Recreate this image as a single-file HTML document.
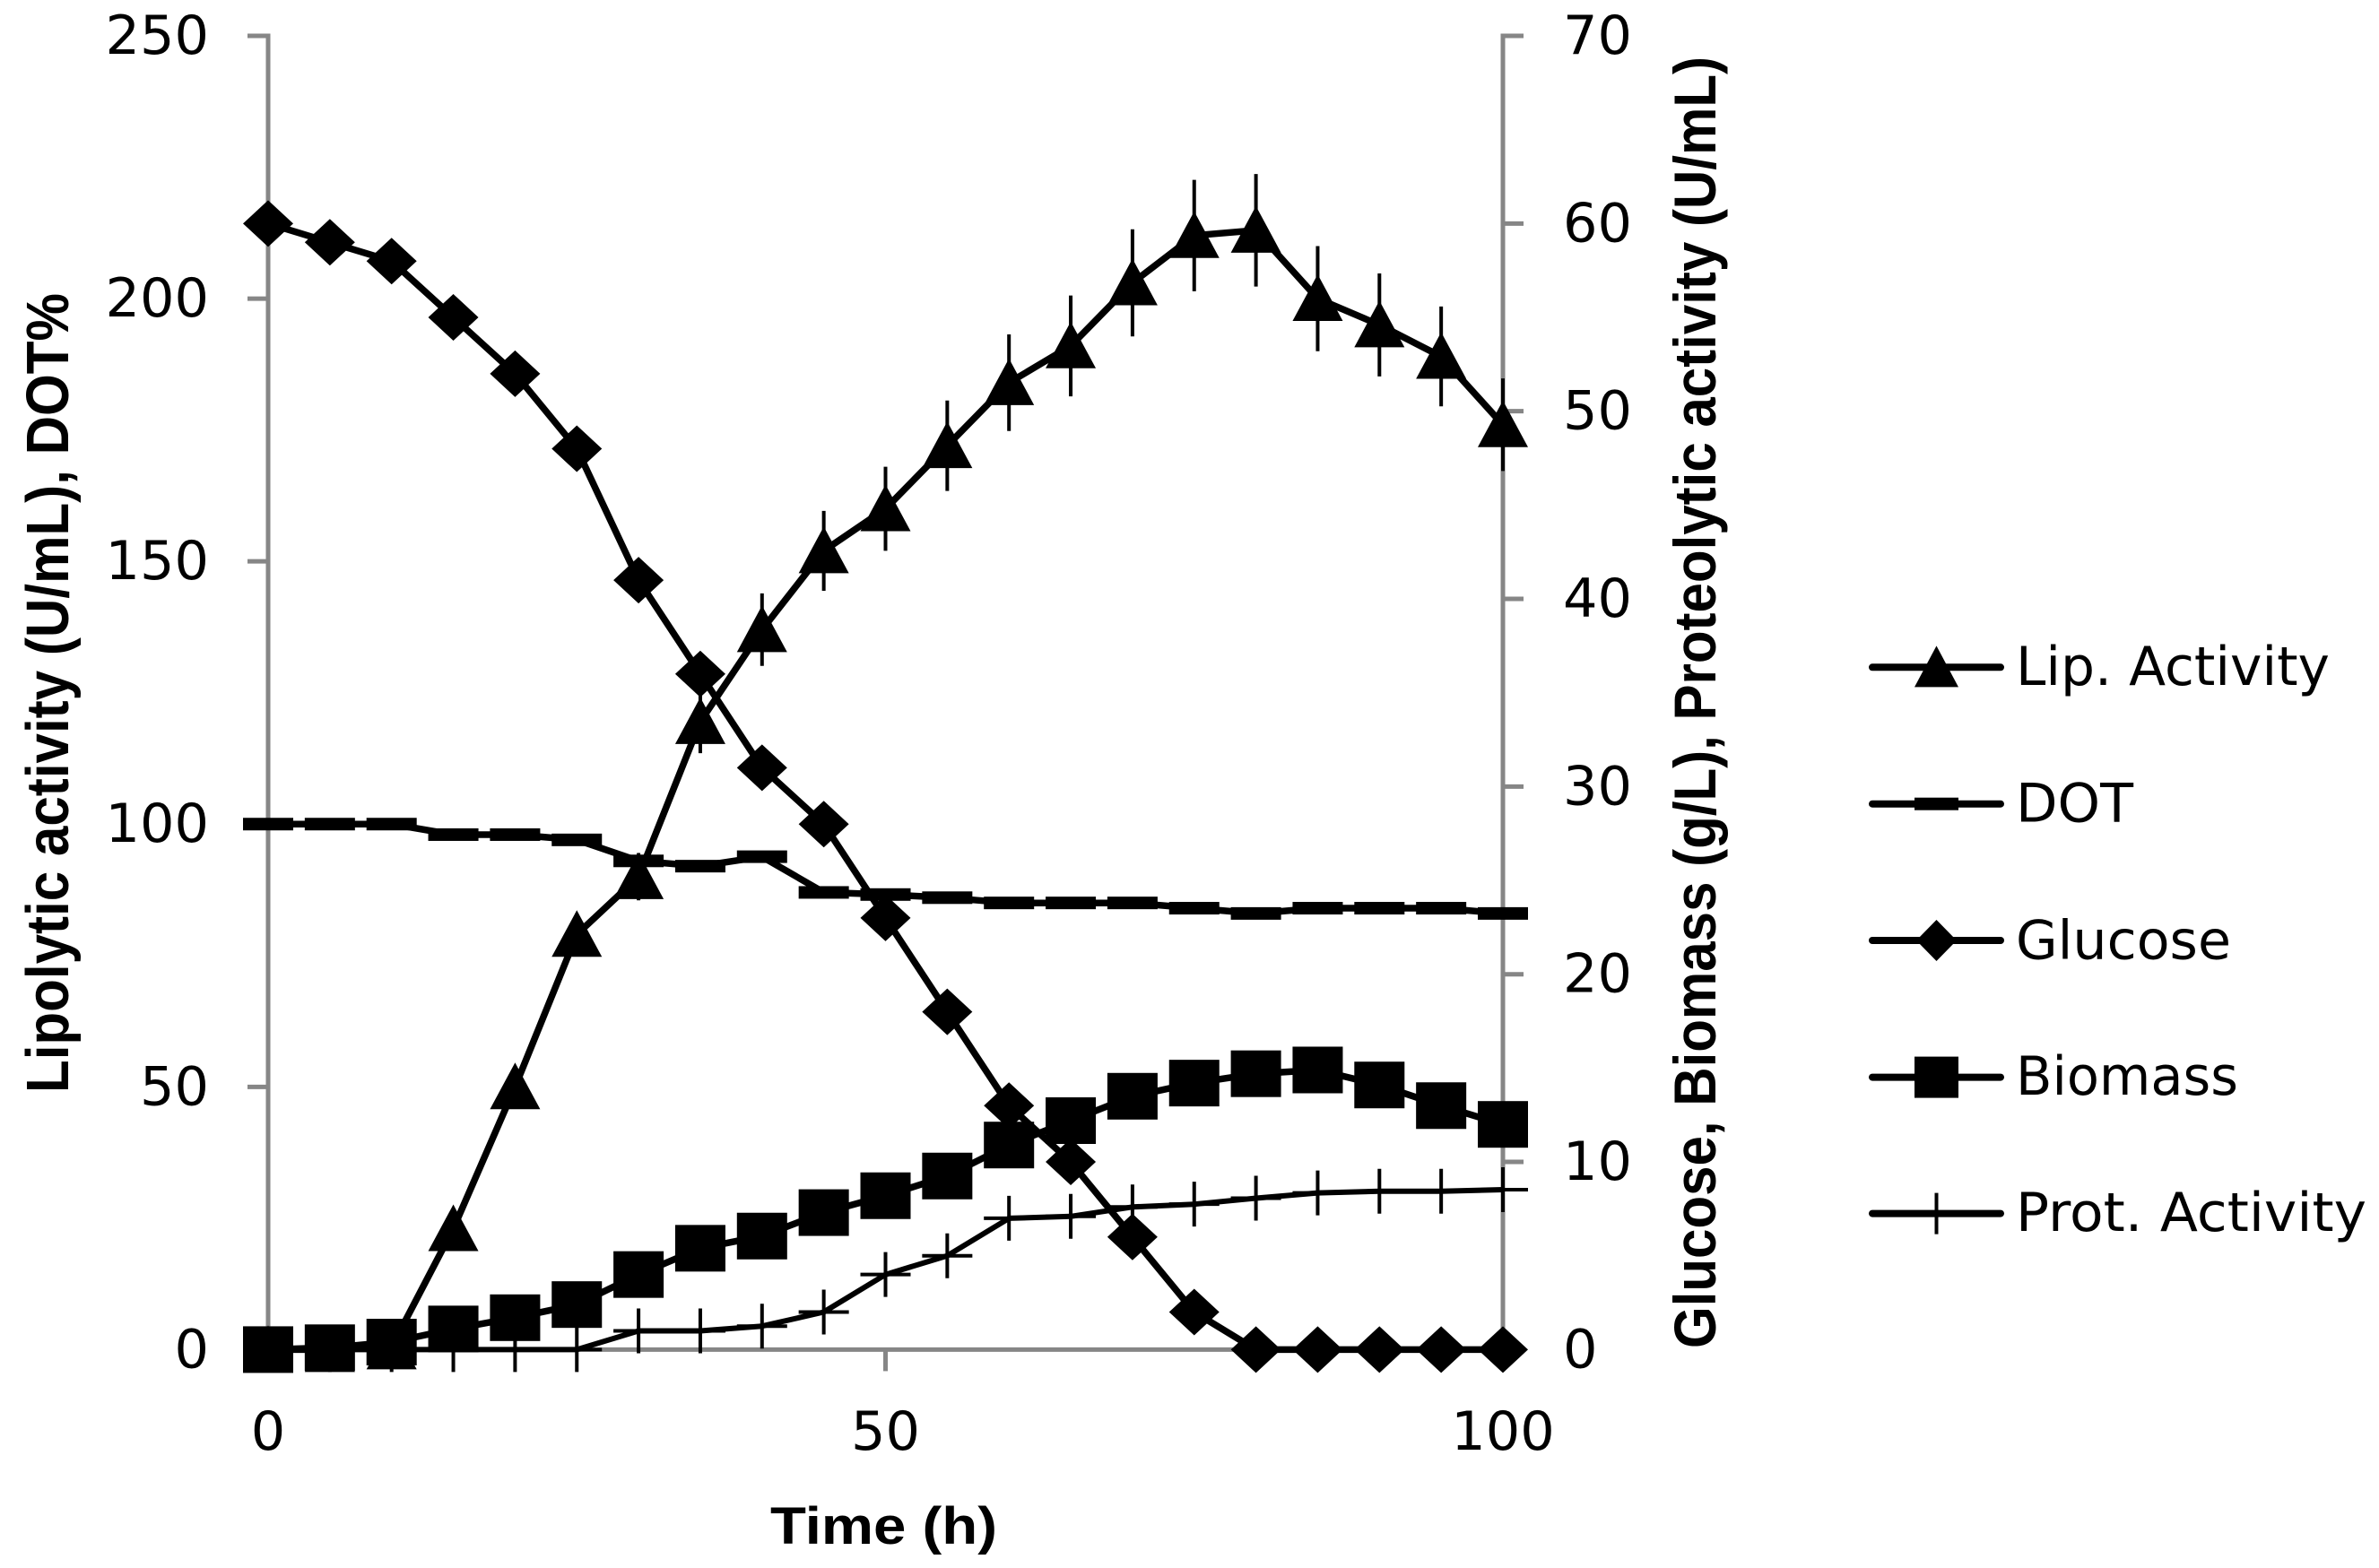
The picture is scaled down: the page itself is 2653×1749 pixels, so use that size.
<!DOCTYPE html>
<html>
<head>
<meta charset="utf-8">
<style>
html,body{margin:0;padding:0;background:#fff;}
svg{display:block;}
.tick{font-family:"DejaVu Sans","Liberation Sans",sans-serif;font-size:60px;fill:#000;}
.title{font-family:"Liberation Sans","DejaVu Sans",sans-serif;font-weight:bold;fill:#000;}
</style>
</head>
<body>
<svg id="chart" xmlns="http://www.w3.org/2000/svg" width="2653" height="1749" viewBox="0 0 2653 1749">
  <rect x="0" y="0" width="2653" height="1749" fill="#fff"/>
  <text class="title" font-size="67" transform="translate(76 1219) rotate(-90)" textLength="892" lengthAdjust="spacingAndGlyphs">Lipolytic activity (U/mL), DOT%</text>
  <text class="title" font-size="66" transform="translate(1913 1504) rotate(-90)" textLength="1441" lengthAdjust="spacingAndGlyphs">Glucose, Biomass (g/L), Proteolytic activity (U/mL)</text>
  <text class="title" font-size="58" x="859" y="1722" textLength="253" lengthAdjust="spacingAndGlyphs">Time (h)</text>
</svg>
<script>
const timeHours = [0,5,10,15,20,25,30,35,40,45,50,55,60,65,70,75,80,85,90,95,100];
const lipActivity = [0,0,0.5,23,50,79,90,119.5,137,152,160,172,184,191,203,212,213,200,195,189,176];
const lipError = [0,0,0,1.2,2.5,4,4.5,6,6.9,7.6,8,8.6,9.2,9.6,10.2,10.6,10.7,10,9.8,9.5,8.8];
const dotLevel = [100,100,100,98,98,97,93,92,93.8,87,86.6,86,85,85,85,84,83,84,84,84,83];
const glucose = [60,59,58,55,52,48,41,36,31,28,23,18,13,10,6,2,0,0,0,0,0];
const biomass = [0,0.1,0.4,1.1,1.7,2.4,4,5.4,6.05,7.3,8.2,9.25,10.9,12.2,13.5,14.2,14.7,14.9,14.1,13,12];
const protActivity = [0,0,0,0,0,0,1,1,1.25,2,4,5,7,7.1,7.6,7.75,8.07,8.35,8.44,8.44,8.52];
const leftTicks = [0,50,100,150,200,250];
const rightTicks = [0,10,20,30,40,50,60,70];
const xTicks = [0,50,100];
const legendLabels = ["Lip. Activity","DOT","Glucose","Biomass","Prot. Activity"];

const NS = "http://www.w3.org/2000/svg";
const svg = document.getElementById("chart");
const PLOT = {left:299, right:1676, top:40, bottom:1505.4};
const xScale = t => PLOT.left + (t - 0) / 100 * (PLOT.right - PLOT.left);
const yLeft = v => PLOT.bottom - v / 250 * (PLOT.bottom - PLOT.top);
const yRight = v => PLOT.bottom - v / 70 * (PLOT.bottom - PLOT.top);
const AXIS = "#868686";

function make(tag, attrs, parent) {
  const el = document.createElementNS(NS, tag);
  for (const k in attrs) el.setAttribute(k, attrs[k]);
  (parent || svg).appendChild(el);
  return el;
}
function group(name) {
  const g = make("g", {});
  
  
  return g;
}

/* axes */
const axes = group('axes');
function axisLine(name, x1, y1, x2, y2, w) {
  const l = make("line", {x1, y1, x2, y2, stroke: AXIS, "stroke-width": w}, axes);
  
  
}
axisLine('left-y-axis-line', PLOT.left, PLOT.top - 2.5, PLOT.left, PLOT.bottom + 2.5, 5);
axisLine('right-y-axis-line', PLOT.right, PLOT.top - 2.5, PLOT.right, PLOT.bottom + 2.5, 5);
axisLine('x-axis-line', PLOT.left, PLOT.bottom, PLOT.right, PLOT.bottom, 5);

function tickLabel(name, txt, x, y, anchor) {
  const t = make("text", {x, y, class: "tick", "text-anchor": anchor, textLength: String(txt).length * 38.5, lengthAdjust: "spacingAndGlyphs"}, axes);
  
  
  t.textContent = txt;
}
leftTicks.forEach(v => {
  axisLine('left-y-tick', PLOT.left - 23, yLeft(v), PLOT.left, yLeft(v), 5);
  tickLabel('left-y-tick-label', v, 233, yLeft(v) + 20, "end");
});
rightTicks.forEach(v => {
  axisLine('right-y-tick', PLOT.right, yRight(v), PLOT.right + 23, yRight(v), 5);
  tickLabel('right-y-tick-label', v, 1743, yRight(v) + 20, "start");
});
xTicks.forEach(v => {
  axisLine('x-tick', xScale(v), PLOT.bottom, xScale(v), PLOT.bottom + 24, 5);
  tickLabel('x-tick-label', v, xScale(v), 1617, "middle");
});

/* markers */
function marker(kind, cx, cy, w, h, parent) {
  if (kind === "triangle") {
    return make("polygon", {points: `${cx},${cy - h * 0.52} ${cx + w / 2},${cy + h * 0.48} ${cx - w / 2},${cy + h * 0.48}`, fill: "#000"}, parent);
  }
  if (kind === "diamond") {
    return make("polygon", {points: `${cx},${cy - h / 2} ${cx + w / 2},${cy} ${cx},${cy + h / 2} ${cx - w / 2},${cy}`, fill: "#000"}, parent);
  }
  if (kind === "square") {
    return make("rect", {x: cx - w / 2, y: cy - h / 2, width: w, height: h, fill: "#000"}, parent);
  }
  if (kind === "dash") {
    return make("rect", {x: cx - w / 2, y: cy - 7, width: w, height: 14, fill: "#000"}, parent);
  }
  return make("path", {d: `M${cx - w / 2} ${cy}H${cx + w / 2}M${cx} ${cy - h / 2}V${cy + h / 2}`, stroke: "#000", "stroke-width": 4, fill: "none"}, parent);
}

function pathFor(values, yFn) {
  return values.map((v, i) => (i ? "L" : "M") + xScale(timeHours[i]).toFixed(1) + " " + yFn(v).toFixed(1)).join("");
}

function drawSeries(name, values, yFn, kind, lw) {
  const g = group(name + '-series');
  const line = make("path", {d: pathFor(values, yFn), fill: "none", stroke: "#000", "stroke-width": lw, "stroke-linejoin": "round", "stroke-linecap": "round"}, g);
  
  
  values.forEach((v, i) => {
    const m = marker(kind, xScale(timeHours[i]), yFn(v), 56, kind === "plus" ? 50 : 52, g);
    
    
  });
}

/* lipolytic error bars */
const errGroup = group('lip-activity-error-bars');
lipActivity.forEach((v, i) => {
  const e = make("line", {x1: xScale(timeHours[i]), x2: xScale(timeHours[i]), y1: yLeft(v + lipError[i]), y2: yLeft(v - lipError[i]), stroke: "#000", "stroke-width": 4}, errGroup);
  
  
});

drawSeries('lip-activity', lipActivity, yLeft, "triangle", 7.5);
drawSeries('dot', dotLevel, yLeft, "dash", 7.5);
drawSeries('glucose', glucose, yRight, "diamond", 7.5);
drawSeries('biomass', biomass, yRight, "square", 7.5);
drawSeries('prot-activity', protActivity, yRight, "plus", 6);

/* legend */
const legendKinds = ["triangle","dash","diamond","square","plus"];
const legendRowY = [744.3, 896.7, 1049, 1201.6, 1353.6];
const legendBase = [764, 916.5, 1069.3, 1221, 1373];
const legendWidth = [350, 131, 240, 248, 391];
const legend = group('legend');
legendLabels.forEach((label, i) => {
  const g = make("g", {}, legend);
  
  
  const l = make("line", {x1: 2088, x2: 2231, y1: legendRowY[i], y2: legendRowY[i], stroke: "#000", "stroke-width": 8, "stroke-linecap": "round"}, g);
  
  
  const m = marker(legendKinds[i], 2159.5, legendRowY[i], legendKinds[i] === "diamond" ? 45 : 49, 46, g);
  
  
  const t = make("text", {x: 2248, y: legendBase[i], class: "tick", textLength: legendWidth[i], lengthAdjust: "spacingAndGlyphs"}, g);
  
  
  t.textContent = label;
});
</script>
</body>
</html>
